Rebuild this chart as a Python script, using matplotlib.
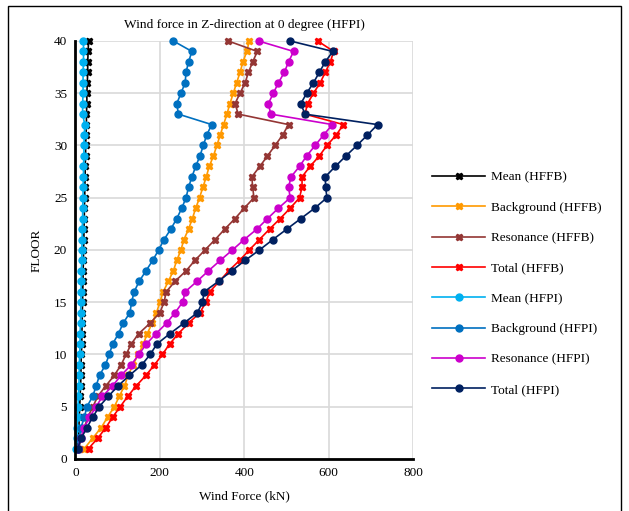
import matplotlib.pyplot as plt
from matplotlib.patches import Rectangle

plt.rcParams['font.family'] = ['Liberation Serif', 'DejaVu Serif']

floors = list(range(1, 41))

# HFFB series (kN)
mean_hffb = [5, 7, 8, 9, 10, 11, 12, 13, 13, 14,
             15, 15, 16, 16, 17, 17, 18, 18, 19, 19,
             20, 20, 21, 21, 22, 22, 23, 23, 24, 24,
             25, 26, 26, 27, 27, 28, 29, 29, 30, 31]
background_hffb = [21, 41, 61, 76, 92, 104, 116, 125, 136, 149,
                   161, 170, 182, 192, 200, 208, 220, 232, 240, 250,
                   257, 268, 277, 285, 294, 302, 310, 317, 327, 335,
                   343, 351, 359, 366, 374, 382, 390, 397, 406, 412]
resonance_hffb = [8, 13, 21, 29, 41, 53, 72, 92, 108, 120,
                  132, 150, 177, 200, 210, 215, 236, 262, 283, 307,
                  331, 354, 378, 400, 423, 420, 418, 437, 455, 473,
                  491, 505, 386, 378, 390, 402, 410, 420, 431, 362]
total_hffb = [31, 53, 72, 88, 106, 124, 144, 167, 187, 206,
              223, 244, 268, 295, 309, 318, 341, 363, 389, 412,
              436, 460, 485, 509, 531, 537, 537, 556, 578, 596,
              618, 635, 544, 550, 564, 580, 592, 604, 612, 574]

# HFPI series (kN)
mean_hfpi = [1, 3, 4, 5, 6, 7, 8, 9, 9, 10,
             11, 11, 12, 12, 13, 13, 14, 14, 15, 15,
             16, 16, 17, 17, 18, 18, 19, 19, 20, 20,
             21, 22, 17, 17, 18, 18, 18, 19, 19, 19]
background_hfpi = [5, 9, 13, 21, 27, 41, 49, 57, 71, 80,
                   88, 102, 113, 129, 133, 139, 151, 167, 183, 197,
                   210, 226, 240, 252, 262, 268, 276, 285, 295, 303,
                   311, 323, 244, 240, 250, 260, 262, 268, 276, 232]
resonance_hfpi = [5, 13, 21, 33, 49, 64, 88, 108, 132, 150,
                  168, 191, 216, 236, 254, 260, 288, 315, 343, 372,
                  400, 430, 455, 481, 509, 505, 511, 531, 548, 568,
                  588, 609, 463, 457, 469, 481, 495, 505, 517, 434]
total_hfpi = [5, 14, 27, 41, 56, 78, 101, 128, 157, 177,
              193, 224, 257, 289, 301, 305, 339, 370, 402, 436,
              468, 501, 534, 567, 596, 593, 592, 616, 641, 667,
              692, 716, 544, 534, 548, 564, 578, 592, 610, 509]

series = [
    ("Mean (HFFB)", mean_hffb, "#000000", "X"),
    ("Background (HFFB)", background_hffb, "#FF9900", "X"),
    ("Resonance (HFFB)", resonance_hffb, "#943634", "X"),
    ("Total (HFFB)", total_hffb, "#FF0000", "X"),
    ("Mean (HFPI)", mean_hfpi, "#00B0F0", "o"),
    ("Background (HFPI)", background_hfpi, "#0070C0", "o"),
    ("Resonance (HFPI)", resonance_hfpi, "#CC00CC", "o"),
    ("Total (HFPI)", total_hfpi, "#002060", "o"),
]

fig = plt.figure(figsize=(6.29, 5.11), dpi=100)
ax = fig.add_axes([0.12, 0.1018, 0.5366, 0.818])

for label, vals, color, marker in series:
    ax.plot(vals, floors, color=color, marker=marker, markersize=5,
            linewidth=1.2, label=label, clip_on=False)

ax.set_xlim(0, 800)
ax.set_ylim(0, 40)
ax.set_xticks(range(0, 801, 200))
ax.set_yticks(range(0, 41, 5))
ax.grid(True, color="#D9D9D9", linewidth=1.2)
ax.set_axisbelow(True)
ax.tick_params(length=0, labelsize=9.5, pad=6)
for s in ["top", "right"]:
    ax.spines[s].set_visible(False)
ax.spines["left"].set_linewidth(2)
ax.spines["bottom"].set_linewidth(2)

ax.set_title("Wind force in Z-direction at 0 degree (HFPI)", fontsize=9.6, pad=9)
ax.set_xlabel("Wind Force (kN)", fontsize=9.5, labelpad=8)
ax.set_ylabel("FLOOR", fontsize=9.5, labelpad=8)

fig.legend(loc="center left", bbox_to_anchor=(0.687, 0.445), frameon=False,
           fontsize=9.5, handlelength=4.0, handletextpad=0.5,
           labelspacing=1.37, borderpad=0, borderaxespad=0)

fig.patches.append(Rectangle((8 / 629, -0.01), 613 / 629, 1 - 6 / 511 + 0.01,
                             transform=fig.transFigure, fill=False,
                             edgecolor="black", linewidth=1))

fig.savefig("out.png", dpi=100)
